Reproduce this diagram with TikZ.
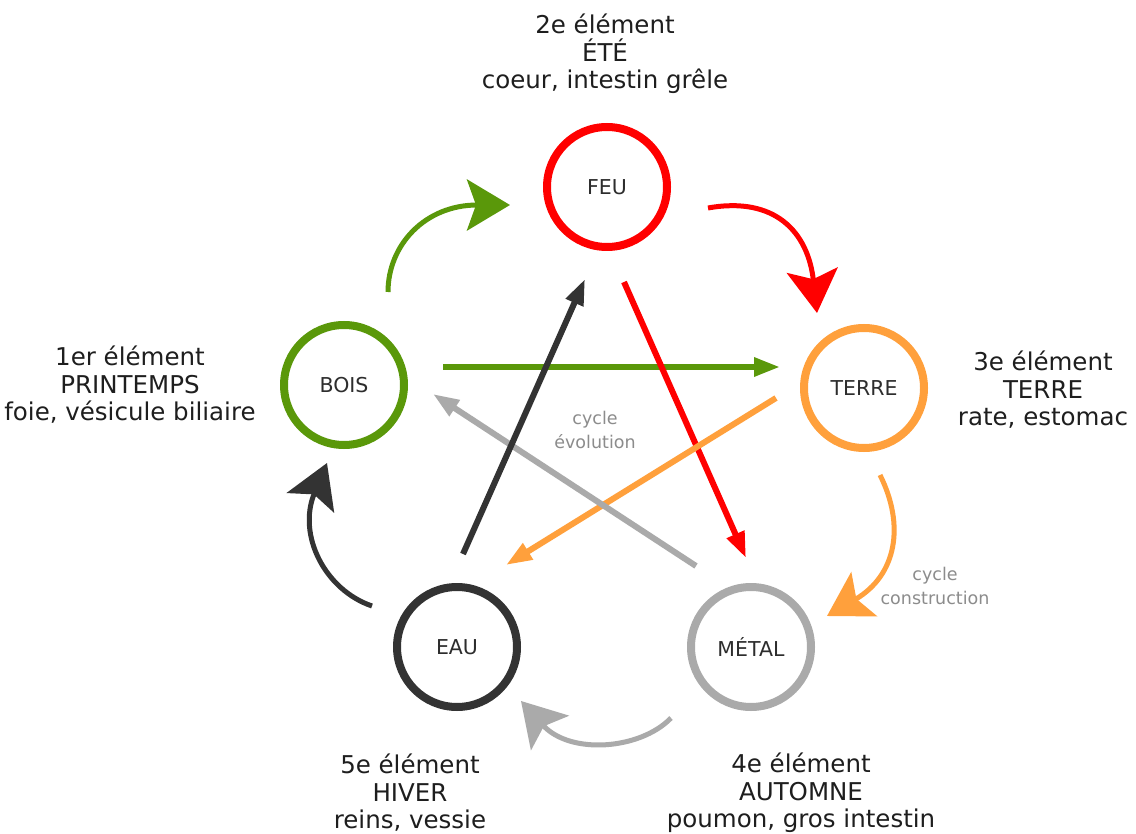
\documentclass[tikz,border=0pt]{standalone}
\usepackage{fontspec}
\setmainfont{DejaVu Sans}
\usetikzlibrary{arrows.meta,calc}
\definecolor{cgreen}{RGB}{90,152,10}
\definecolor{cred}{RGB}{255,0,0}
\definecolor{corange}{RGB}{255,160,60}
\definecolor{cdark}{RGB}{51,51,51}
\definecolor{clight}{RGB}{170,170,170}
\definecolor{ctext}{RGB}{30,30,30}
\definecolor{cnode}{RGB}{45,45,45}
\definecolor{cnote}{RGB}{140,140,140}
\begin{document}
\begin{tikzpicture}[x=1pt,y=-1pt,
  elem/.style={circle,draw,line width=8pt,minimum size=120pt,inner sep=0pt,text=cnode,font=\fontsize{20.5}{24}\selectfont},
  lbl/.style={align=center,text=ctext,font=\fontsize{24.5}{27.5}\selectfont},
  star/.style={line width=6pt,-{Triangle[length=26pt,width=18pt]}},
  cyc/.style={line width=5pt,-{Stealth[length=43pt,width=51pt,inset=9pt]}},
  note/.style={align=center,text=cnote,font=\fontsize{17.5}{24}\selectfont}]
\useasboundingbox[fill=white] (0,0) rectangle (1136,834);

% elements
\node[elem,draw=cred]    (feu)   at (607,187) {FEU};
\node[elem,draw=cgreen]  (bois)  at (344,385) {BOIS};
\node[elem,draw=corange] (terre) at (864,388) {TERRE};
\node[elem,draw=cdark]   (eau)   at (457,647) {EAU};
\node[elem,draw=clight]  (metal) at (751,647) {MÉTAL};

% labels
\node[lbl] (lfeu)   at (605,54)  {2e élément\\ÉTÉ\\coeur, intestin grêle};
\node[lbl] (lbois)  at (130,385) {1er élément\\PRINTEMPS\\foie, vésicule biliaire};
\node[lbl] (lterre) at (1043,390) {3e élément\\TERRE\\rate, estomac};
\node[lbl] (leau)   at (410,793) {5e élément\\HIVER\\reins, vessie};
\node[lbl] (lmetal) at (801,793) {4e élément\\AUTOMNE\\poumon, gros intestin};

\node[note] (nevol)  at (595,430) {cycle\\évolution};
\node[note] (ncons)  at (935,586) {cycle\\construction};

% star (evolution) arrows
\draw[star,draw=cgreen]  ($(bois)+(99,-18)$)  -- ($(terre)+(-84,-21)$);
\draw[star,draw=cred]    ($(feu)+(17,95)$)    -- ($(metal)+(-5,-89)$);
\draw[star,draw=corange] ($(terre)+(-88,10)$) -- ($(eau)+(49,-82)$);
\draw[star,draw=clight]  ($(metal)+(-55,-81)$) -- ($(bois)+(89,9)$);
\draw[star,draw=cdark]   ($(eau)+(6,-93)$)    -- ($(feu)+(-22,92)$);

% outer (construction) cycle
\draw[cyc,draw=cgreen]  ($(bois)+(44,-93)$) .. controls +(0,-47) and +(-85,0) .. ($(feu)+(-97,18)$);
\draw[cyc,draw=cred]    ($(feu)+(101,21)$) .. controls +(67,-12) and +(-9,-81) .. ($(terre)+(-47,-75)$);
\draw[cyc,draw=corange] ($(terre)+(16,87)$) .. controls +(25,50) and +(70,-41) .. ($(metal)+(76,-31)$);
\draw[cyc,draw=clight]  ($(metal)+(-80,71)$) .. controls +(-31,32) and +(49,54) .. ($(eau)+(64,54)$);
\draw[cyc,draw=cdark]   ($(eau)+(-85,-41)$) .. controls +(-47,-16) and +(-30,72) .. ($(bois)+(-17,78)$);
\end{tikzpicture}
\end{document}
